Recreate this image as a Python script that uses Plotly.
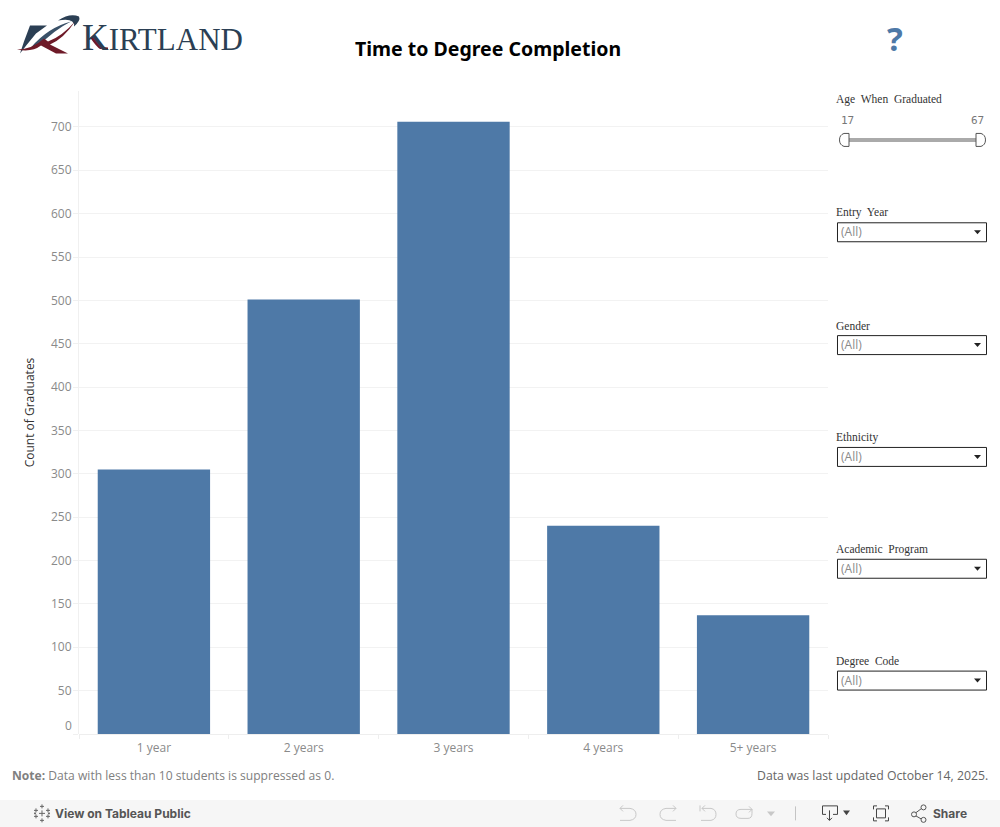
import plotly.graph_objects as go

# ---- data ----
categories = ["1 year", "2 years", "3 years", "4 years", "5+ years"]
graduates = [305, 501, 706, 240, 137]
y_ticks = [0, 50, 100, 150, 200, 250, 300, 350, 400, 450, 500, 550, 600, 650, 700]
y_tick_labels = ["", "50", "100", "150", "200", "250", "300", "350", "400", "450", "500", "550", "600", "650", "700"]
dropdown_labels = ["Entry Year", "Gender", "Ethnicity", "Academic Program", "Degree Code"]

W, H = 1000, 827
L, R, T, B = 79, 828, 90.5, 734.5
GREY = "#8a8a8a"
SANS = "'Open Sans', sans-serif"
SERIF = "'Liberation Serif', serif"


def px(x):
    return (x - L) / (R - L)


def py(y):
    return (B - y) / (B - T)


def path(d):
    out = []
    for tok in d.split():
        if "," in tok:
            a, b = tok.split(",")
            out.append(f"{px(float(a)):.5f},{py(float(b)):.5f}")
        else:
            out.append(tok)
    return " ".join(out)


shapes, annos = [], []


def shp(d, fill=None, line=None, width=1, layer="above"):
    s = dict(type="path", xref="paper", yref="paper", path=path(d), layer=layer,
             line=dict(color=line or "rgba(0,0,0,0)", width=width if line else 0))
    if fill:
        s["fillcolor"] = fill
    shapes.append(s)


def rect(x0, y0, x1, y1, fill=None, line=None, width=1, layer="above"):
    shp(f"M {x0},{y0} L {x1},{y0} L {x1},{y1} L {x0},{y1} Z", fill, line, width, layer)


def txt(x, y, s, size=12, color=GREY, family=SANS, anchor="left", **kw):
    annos.append(dict(xref="paper", yref="paper", x=px(x), y=py(y), text=s, showarrow=False,
                      xanchor=anchor, yanchor="middle", borderpad=0, borderwidth=0,
                      font=dict(size=size, color=color, family=family), **kw))


# ---- logo ----
NAVY, RED = "#2b3f54", "#6e1a28"
shp("M 30,25 L 47,25 L 36,33 L 27,44 L 20,53 L 24,41 Z", NAVY)
shp("M 31,47 Q 48,27 71,21 Q 55,29 38,46 Z", "#3a5168")
shp("M 58,20 Q 70,12 79,16 Q 81,20 74,26 Q 75,17 58,20 Z", NAVY)
shp("M 75,21 Q 64,38 50,44 L 68,53 L 56,53 L 41,45 Q 32,52 17,49 Q 32,49 44,38 L 48,41 Q 62,36 75,21 Z", RED)
txt(82, 37, "K<span style='font-size:31px'>IRTLAND</span>", size=37, color=NAVY, family=SERIF)
shp("M 93,35 L 100,44 Q 103,47 108,47 L 108,48.5 L 100,48.5 Q 97,47 90,37 Z", RED)

# ---- heading ----
txt(487.5, 48, "<b>Time to Degree Completion</b>", size=19.5, color="#000000",
    family="'Noto Sans', sans-serif", anchor="center")
txt(895, 38, "<b>?</b>", size=33, color="#4e79a7", family="'Noto Sans', sans-serif", anchor="center")

# ---- zero label sits above the baseline in the original ----
txt(72, 726, "0", size=12, anchor="right")

# ---- slider ----
txt(836, 99, "Age  When  Graduated", size=11.5, color="#333333", family=SERIF)
txt(847, 120, "17", size=11, color="#777777", family="'DejaVu Sans Mono', monospace", anchor="center")
txt(977, 120, "67", size=11, color="#777777", family="'DejaVu Sans Mono', monospace", anchor="center")
rect(848, 137.5, 977, 141.5, fill="#aaaaaa")
shp("M 849,133 L 844,133 Q 839.5,134.5 839.5,139.5 Q 839.5,144.5 844,146 L 849,146 Z", "#ffffff", "#555555")
shp("M 976,133 L 981,133 Q 985.5,134.5 985.5,139.5 Q 985.5,144.5 981,146 L 976,146 Z", "#ffffff", "#555555")

# ---- dropdown filters ----
for name, top in zip(dropdown_labels, [222, 335, 447, 559, 671]):
    txt(836, top - 9.6, name.replace(" ", "  "), size=11.5, color="#333333", family=SERIF)
    rect(837.5, top + 0.5, 986.5, top + 19.5, fill="#ffffff", line="#222222")
    txt(841, top + 9.5, "(All)", size=12, color="#8a8a8a")
    shp(f"M 974,{top + 8} L 981,{top + 8} L 977.5,{top + 12} Z", "#222222")

# ---- footer ----
txt(12, 776, "<b>Note:</b> Data with less than 10 students is suppressed as 0.", size=12.1, color="#808080")
txt(988, 776, "Data was last updated October 14, 2025.", size=12.25, color="#666666", anchor="right")

# ---- toolbar ----
rect(0, 800.5, 1000, 830, fill="#f6f6f6", layer="below")
for cx, cy, r in [(42, 814, 3), (36, 811, 2), (48, 811, 2), (36, 817, 2), (48, 817, 2), (42, 807, 2), (42, 821, 2), (35, 814, 1), (49, 814, 1)]:
    shp(f"M {cx - r},{cy} L {cx + r},{cy} M {cx},{cy - r} L {cx},{cy + r}", line="#666666")
txt(55, 814, "<b>View on Tableau Public</b>", size=12, color="#555555", family="Inter, Roboto, sans-serif")

SOFT = "#c8c8c8"
shp("M 620,809 L 630,809 Q 636,810 636,815 Q 636,820 630,821 L 620,821 M 623,806 L 620,809 L 623,812", line=SOFT)
shp("M 676,809 L 666,809 Q 660,810 660,815 Q 660,820 666,821 L 676,821 M 673,806 L 676,809 L 673,812", line=SOFT)
shp("M 700,806 L 700,812 M 702,809 L 711,809 Q 716,810 716,815 Q 716,820 711,821 L 701,821 M 705,806 L 702,809 L 705,812", line=SOFT)
shp("M 752,810 L 741,810 Q 736,810 736,814.5 Q 736,819 741,819 L 748,819 Q 752,819 752,814 L 752,810 M 749,807 L 752,810 L 749,813", line=SOFT)
shp("M 767,812 L 775,812 L 771,817 Z", SOFT)
shp("M 795.5,807 L 795.5,821", line="#c4c4c4")
shp("M 826,815 L 822.5,815 L 822.5,806.5 L 837.5,806.5 L 837.5,815 L 833,815 M 829.5,811 L 829.5,821 M 827,818.5 L 829.5,821 L 832,818.5", line="#444444")
shp("M 843,811 L 850,811 L 846.5,816 Z", "#444444")
shp("M 873.5,810 L 873.5,806.5 L 877,806.5 M 885,806.5 L 888.5,806.5 L 888.5,810 M 888.5,818 L 888.5,821.5 L 885,821.5 M 877,821.5 L 873.5,821.5 L 873.5,818", line="#444444")
rect(876.5, 809.5, 885.5, 818.5, line="#444444")
shp("M 915,814 L 921,809.5 M 915,816 L 921,819.5", line="#555555")
for cx, cy in [(914, 815), (923.5, 808), (923.5, 820.5)]:
    shapes.append(dict(type="circle", xref="paper", yref="paper", x0=px(cx - 2.5), x1=px(cx + 2.5),
                       y0=py(cy + 2.5), y1=py(cy - 2.5), fillcolor="#f6f6f6", line=dict(color="#555555", width=1)))
txt(933, 814, "<b>Share</b>", size=12, color="#555555", family="Inter, Roboto, sans-serif")

# ---- chart ----
fig = go.Figure(go.Bar(x=categories, y=graduates, width=0.75, marker=dict(color="#4e79a7", line=dict(width=0))))
fig.update_layout(
    width=W, height=H, autosize=False,
    margin=dict(l=L, r=W - R, t=T, b=H - B, pad=0),
    paper_bgcolor="#ffffff", plot_bgcolor="#ffffff",
    showlegend=False, font=dict(family=SANS, size=12, color=GREY),
    shapes=shapes, annotations=annos,
    xaxis=dict(type="category", range=[-0.5, 4.5], tickson="boundaries", ticks="outside", ticklen=4,
               tickcolor="#eeeeee", showgrid=False, zeroline=False, showline=False,
               ticklabelstandoff=5,
               tickfont=dict(size=12, color=GREY, family=SANS)),
    yaxis=dict(range=[0, 741.4], tickmode="array", tickvals=y_ticks, ticktext=y_tick_labels,
               ticks="outside", ticklen=5, tickcolor="#f0f0f0", gridcolor="#f2f2f2", gridwidth=1,
               zeroline=True, zerolinecolor="#eeeeee", zerolinewidth=1,
               showline=True, linecolor="#f0f0f0", linewidth=1, ticklabelstandoff=-1,
               tickfont=dict(size=12, color=GREY, family=SANS),
               title=dict(text="Count of Graduates", standoff=13,
                          font=dict(size=12, color="#333333", family=SANS))),
)
fig.write_html("out.html", config=dict(displayModeBar=False), post_script="document.body.style.margin='0';")
